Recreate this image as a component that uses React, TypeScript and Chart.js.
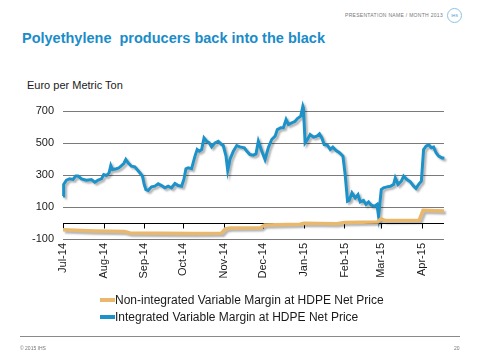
import React, { useEffect, useRef } from "react";
import { Chart, registerables } from "chart.js";

Chart.register(...registerables);

// ---- Data ----
const monthLabels = ["Jul-14", "Aug-14", "Sep-14", "Oct-14", "Nov-14", "Dec-14", "Jan-15", "Feb-15", "Mar-15", "Apr-15"];
// days since 1 Jul 2014 at the start of each month
const monthStartDays = [0, 31, 62, 92, 123, 153, 184, 215, 243, 274];
const axisMaxDay = 291;
const yTickValues = [-100, 100, 300, 500, 700];

const integratedDays = [
  0, 0.5, 2.6, 5.1, 7.7, 9.7, 11.5, 14.1, 17.9, 21.7, 24.3, 26.8, 29.4, 31.1, 33.2, 35.2, 36.5, 37.8, 40.9, 42.8,
  44.7, 46.4, 48, 49.7, 52.3, 54.9, 56.6, 58.7, 60.7, 62, 63.3, 65, 67.6, 70.2, 72.7, 75.3, 77.8, 80.3, 82.9, 85.5,
  88, 90.6, 92.3, 93.9, 95.6, 98.2, 100.8, 102.5, 104.1, 105.9, 107.7, 109.7, 111.7, 113.5, 116.1, 118.6, 121.2, 122.4, 124.5, 125.8,
  127.5, 130.1, 132.7, 135.2, 138.5, 140.3, 142.8, 145.4, 147.4, 149.2, 151.8, 154.3, 156.8, 159.4, 162, 163.7, 166.3, 168.3, 170.4, 172.2,
  174.8, 177.3, 179, 181.6, 183.2, 183.6, 184.9, 186.7, 188.8, 191.3, 193.9, 195.9, 197.7, 199.5, 202, 204.1, 206.1, 208.6, 211.2, 213.8,
  215.5, 217.3, 218.6, 220.7, 223.2, 225.3, 227, 229.5, 231.4, 233.4, 235.4, 238, 239.8, 241, 243.1, 244.8, 247.4, 250, 252.5, 253.8,
  255.9, 258.4, 260.2, 262.7, 265.3, 267.8, 269.6, 271.6, 273.7, 275.4, 277.3, 279.3, 281.3, 283.1, 284.9, 286.9, 289.5, 291.3,
];
const integratedValues = [
  168, 241, 268, 276, 272, 293, 293, 276, 268, 272, 255, 268, 276, 303, 297, 314, 359, 334, 339, 345,
  359, 372, 397, 376, 355, 351, 334, 314, 293, 241, 209, 203, 226, 230, 245, 234, 220, 230, 220, 247,
  234, 230, 272, 339, 345, 339, 418, 459, 449, 459, 532, 511, 501, 476, 501, 511, 490, 484, 418, 328,
  397, 449, 484, 476, 470, 449, 428, 424, 432, 511, 449, 397, 470, 522, 543, 584, 595, 595, 647, 616,
  626, 636, 653, 668, 730, 720, 501, 522, 553, 537, 543, 557, 532, 490, 486, 459, 474, 453, 439, 418,
  303, 136, 141, 189, 157, 178, 132, 141, 116, 132, 111, 105, 116, 43, 209, 220, 226, 230, 241, 282,
  241, 261, 293, 272, 257, 230, 216, 241, 261, 459, 480, 490, 470, 474, 439, 418, 407, 407,
];

const nonIntegratedDays = [0, 9, 24, 47, 51, 74, 100, 121, 124, 128, 151, 154, 181, 184, 209, 215, 240, 243, 246, 272, 275, 291];
const nonIntegratedValues = [-42, -46, -50, -53, -62, -64, -65, -64, -36, -31, -29, -12, -8, -2, -5, 3, 6, 26, 15, 17, 80, 75];

const seriesNames = [
  "Non-integrated Variable Margin at HDPE Net Price",
  "Integrated Variable Margin at HDPE Net Price",
];
const seriesColors = ["#e9b86c", "#1c92c9"];

const FONT = "'Liberation Sans', Arial, sans-serif";

const zeroAxisPlugin = {
  id: "zeroAxis",
  beforeDatasetsDraw(chart: any) {
    const { ctx, chartArea, scales } = chart;
    const y = Math.round(scales.y.getPixelForValue(0)) + 0.5;
    ctx.save();
    ctx.strokeStyle = "#000000";
    ctx.lineWidth = 1;
    ctx.beginPath();
    ctx.moveTo(chartArea.left, y);
    ctx.lineTo(chartArea.right, y);
    monthStartDays.forEach((d) => {
      const x = Math.round(scales.x.getPixelForValue(d)) + 0.5;
      ctx.moveTo(x, y);
      ctx.lineTo(x, y + 5);
    });
    ctx.stroke();
    ctx.restore();
  },
  beforeDatasetDraw(chart: any) {
    const ctx = chart.ctx;
    ctx.save();
    ctx.shadowColor = "rgba(0,0,0,0.3)";
    ctx.shadowOffsetX = 2;
    ctx.shadowOffsetY = 2;
    ctx.shadowBlur = 2;
  },
  afterDatasetDraw(chart: any) {
    chart.ctx.restore();
  },
};

function ChartCanvas() {
  const ref = useRef<HTMLCanvasElement | null>(null);
  useEffect(() => {
    if (!ref.current) return;
    const chart = new Chart(ref.current, {
      type: "line",
      data: {
        datasets: [
          {
            label: seriesNames[0],
            data: nonIntegratedDays.map((d, i) => ({ x: d, y: nonIntegratedValues[i] })),
            borderColor: seriesColors[0],
            backgroundColor: seriesColors[0],
            borderWidth: 3.5,
            pointRadius: 0,
            tension: 0,
            clip: false as any,
          },
          {
            label: seriesNames[1],
            data: integratedDays.map((d, i) => ({ x: d, y: integratedValues[i] })),
            borderColor: seriesColors[1],
            backgroundColor: seriesColors[1],
            borderWidth: 3,
            pointRadius: 0,
            tension: 0,
            clip: false as any,
          },
        ],
      },
      options: {
        animation: false,
        responsive: false,
        devicePixelRatio: 1,
        layout: { padding: { left: 0, right: 36, top: 111, bottom: 71 } },
        plugins: {
          legend: { display: false },
          tooltip: { enabled: false },
          title: { display: false },
        },
        scales: {
          x: {
            type: "linear",
            min: 0,
            max: axisMaxDay,
            afterFit: (s: any) => {
              s.height = 50;
            },
            afterBuildTicks: (s: any) => {
              s.ticks = monthStartDays.map((v) => ({ value: v }));
            },
            ticks: {
              autoSkip: false,
              maxRotation: 90,
              minRotation: 90,
              padding: 4,
              color: "#1a1a1a",
              font: { family: FONT, size: 11 },
              callback: (v: any) => {
                const i = monthStartDays.indexOf(Number(v));
                return i >= 0 ? monthLabels[i] : "";
              },
            },
            grid: { display: false, drawTicks: false },
            border: { display: false },
          },
          y: {
            min: -100,
            max: 700,
            afterFit: (s: any) => {
              s.width = 63;
            },
            afterBuildTicks: (s: any) => {
              s.ticks = yTickValues.map((v) => ({ value: v }));
            },
            ticks: {
              padding: 9,
              color: "#1a1a1a",
              font: { family: FONT, size: 11 },
            },
            grid: { color: "#7a7a7a", lineWidth: 1, drawTicks: false },
            border: { display: false },
          },
        },
      },
      plugins: [zeroAxisPlugin],
    });
    return () => chart.destroy();
  }, []);
  return <canvas ref={ref} width={480} height={360} style={{ position: "absolute", left: 0, top: 0 }} />;
}

export default function App() {
  const abs: React.CSSProperties = { position: "absolute", whiteSpace: "nowrap" };
  return (
    <div style={{ position: "fixed", left: 0, top: 0, width: 480, height: 360, background: "#fff", fontFamily: FONT, overflow: "hidden" }}>
      <div style={{ ...abs, left: 345, top: 12, fontSize: 5, color: "#777", letterSpacing: 0.3 }}>PRESENTATION  NAME  /  MONTH 2013</div>
      <div style={{ ...abs, left: 447, top: 8, width: 13, height: 13, borderRadius: "50%", border: "1px solid #8cc4e4", fontSize: 4, color: "#3a9ad0", textAlign: "center", lineHeight: "13px" }}>IHS</div>
      <div style={{ ...abs, left: 22, top: 30, fontSize: 14.5, fontWeight: "bold", color: "#1a8cc8" }}>
        Polyethylene&nbsp; producers back into the black
      </div>
      <div style={{ ...abs, left: 27, top: 79, fontSize: 11, color: "#1a1a1a" }}>Euro per Metric Ton</div>
      <ChartCanvas />
      {seriesNames.map((name, i) => (
        <div key={name} style={{ ...abs, left: 100, top: 292 + i * 17.4, height: 15, display: "flex", alignItems: "center", fontSize: 12, color: "#1a1a1a" }}>
          <span style={{ display: "inline-block", width: 15, height: 4, background: seriesColors[i], marginRight: 0 }} />
          <span>{name}</span>
        </div>
      ))}
      <div style={{ position: "absolute", left: 20, top: 336, width: 440, height: 1, background: "#8a8a8a" }} />
      <div style={{ ...abs, left: 20, top: 345, fontSize: 5, color: "#777" }}>© 2015 IHS</div>
      <div style={{ ...abs, left: 454, top: 345, fontSize: 5, color: "#777" }}>20</div>
    </div>
  );
}
